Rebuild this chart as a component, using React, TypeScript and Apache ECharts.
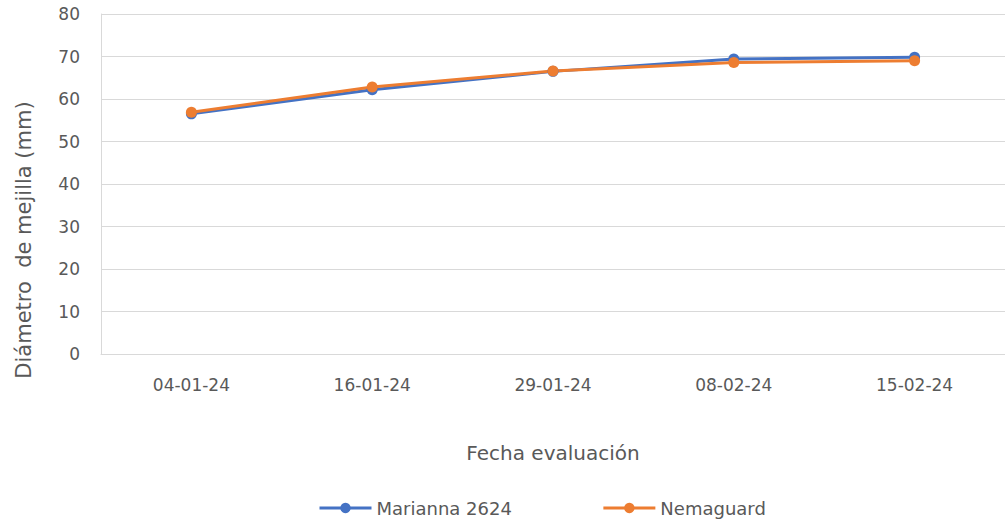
import React, { useEffect, useRef } from "react";
import * as echarts from "echarts";

const categories = ["04-01-24", "16-01-24", "29-01-24", "08-02-24", "15-02-24"];
const marianna = [56.5, 62.2, 66.5, 69.4, 69.8];
const nemaguard = [56.9, 62.8, 66.6, 68.6, 69.0];
const yTicks = { min: 0, max: 80, interval: 10 };
const yTitle = "Diámetro  de mejilla (mm)";
const xTitle = "Fecha evaluación";

const FONT = "'DejaVu Sans', 'Noto Sans', sans-serif";
const TEXT = "#595959";
const GRID = "#d9d9d9";

export default function App() {
  const ref = useRef<HTMLDivElement>(null);
  useEffect(() => {
    if (!ref.current) return;
    const chart = echarts.init(ref.current, undefined, { renderer: "svg" });
    const mk = (name: string, data: number[], color: string) => ({
      name,
      type: "line",
      data,
      symbol: "circle",
      symbolSize: 11,
      lineStyle: { width: 3, color },
      itemStyle: { color },
      emphasis: { disabled: true },
    });
    chart.setOption({
      animation: false,
      textStyle: { fontFamily: FONT },
      grid: { left: 101, right: 0, top: 14, bottom: 173, containLabel: false },
      graphic: [
        {
          type: "text",
          x: 24,
          y: 240,
          rotation: Math.PI / 2,
          style: {
            text: yTitle,
            fill: TEXT,
            font: `21px ${FONT}`,
            align: "center",
            verticalAlign: "middle",
          },
        },
      ],
      xAxis: {
        type: "category",
        data: categories,
        boundaryGap: true,
        axisLine: { show: true, lineStyle: { color: GRID, width: 1 } },
        axisTick: { show: false },
        axisLabel: { color: TEXT, fontSize: 17, fontFamily: FONT, margin: 22 },
        name: xTitle,
        nameLocation: "middle",
        nameGap: 89,
        nameTextStyle: { color: TEXT, fontSize: 20, fontFamily: FONT },
      },
      yAxis: {
        type: "value",
        min: yTicks.min,
        max: yTicks.max,
        interval: yTicks.interval,
        axisLine: { show: true, lineStyle: { color: GRID, width: 1 } },
        axisTick: { show: false },
        splitLine: { lineStyle: { color: GRID, width: 1 } },
        axisLabel: { color: TEXT, fontSize: 17, fontFamily: FONT, margin: 21 },
      },
      legend: {
        bottom: 5,
        left: 313,
        itemGap: 90,
        itemWidth: 52,
        itemHeight: 13,
        lineStyle: { width: 3 },
        textStyle: { color: TEXT, fontSize: 18, fontFamily: FONT },
        data: ["Marianna 2624", "Nemaguard"],
      },
      series: [
        mk("Marianna 2624", marianna, "#4472C4"),
        mk("Nemaguard", nemaguard, "#ED7D31"),
      ],
    });
    return () => chart.dispose();
  }, []);
  return <div ref={ref} style={{ width: 1005, height: 527, position: "absolute", left: 0, top: 0 }} />;
}
